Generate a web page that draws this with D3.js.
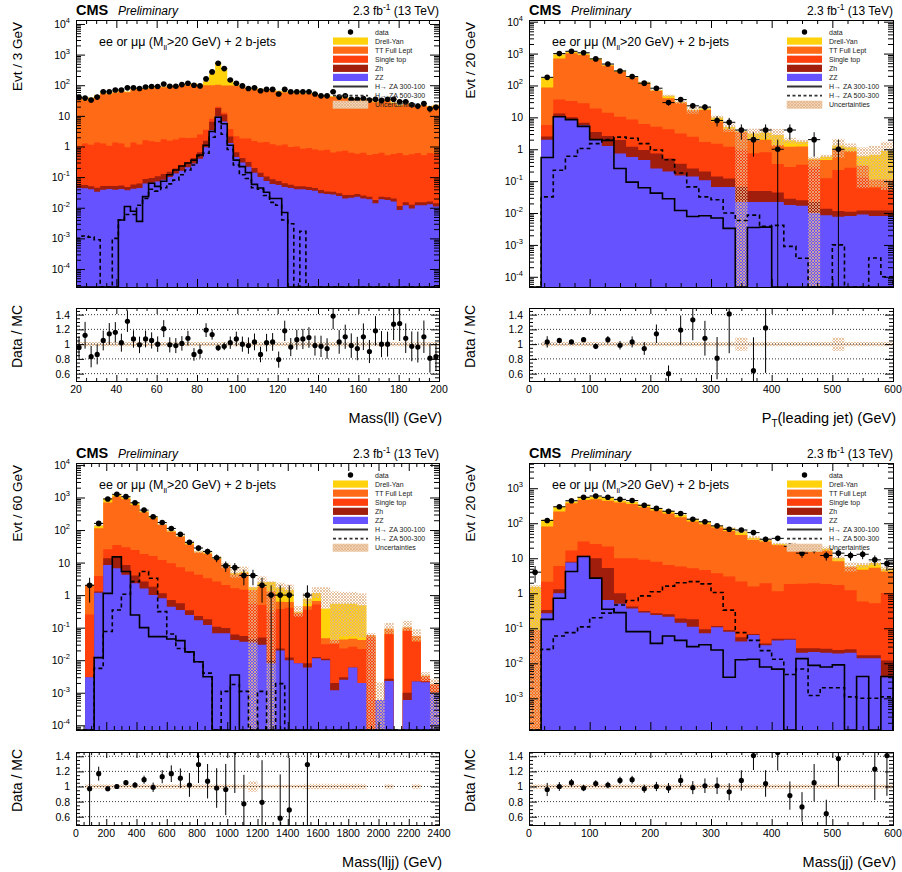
<!DOCTYPE html>
<html>
<head>
<meta charset="utf-8">
<script src="https://cdn.jsdelivr.net/npm/d3@7/dist/d3.min.js"></script>
<style>
  html, body { margin: 0; padding: 0; background: #fff; }
  svg { display: block; }
</style>
</head>
<body>
<svg id="chart" width="902" height="872"></svg>
<script>
// ---------------- Mass(ll): 3 GeV bins, 20-200 GeV ----------------
const mllBinLow = 20, mllBinWidth = 3;
const mllData = [40,38,33,41,61,61,70,70,82,82, 78,88,91,91,110,93,93,105,116,100, 95,161,272,521,349,149,116,95,78,82,
  66,73,73,52,73,61,61,61,61,52, 45,45,61,41,45,35,35,37,33,35, 32,35,35,29,29,23,21,25,17,19];
const mllRatio = [0.955,1.12,0.83,0.86,1.05,1.14,1.16,1.02,1.31,1.07, 0.99,1.07,1.05,1.0,1.21,0.99,0.98,1.01,1.08,0.86,
  0.9,1.19,1.13,0.95,0.97,1.02,1.07,1.0,0.98,1.03, 0.86,1.02,1.03,0.79,1.18,0.96,1.06,1.07,1.09,0.98,
  0.97,0.94,1.38,1.03,1.1,0.98,0.94,1.1,0.9,1.18, 1.0,1.0,1.27,1.28,1.08,0.97,0.96,1.1,0.81,0.83];
const mllDY = [2.5,2.0,2.4,2.9,3.5,3.2,3.6,4.1,3.8,4.6, 4.7,5.0,5.2,5.5,5.5,5.6,6.0,7.0,8.0,10, 12,35,140,445,262,48,12,7.0,5.5,5.0,
  4.6,4.3,4.3,3.9,3.7,3.8,3.5,3.4,3.4,3.2, 2.8,2.9,2.7,2.4,2.5,2.1,2.2,2.0,2.2,1.8, 1.9,2.1,1.7,1.4,1.6,1.4,1.3,1.4,1.3,1.4];
const mllTT = [38.4,30.8,36.5,43.8,53.3,49.3,55.1,63.3,57.9,70.7, 73.0,75.7,80.1,84.2,83.7,86.8,87.3,95.2,97.7,104.4,
  91.1,96.7,92.6,83.1,85.4,94.3,94.2,86.2,72.3,73.1, 70.8,65.9,65.4,60.8,57.0,58.7,53.0,52.7,51.7,49.0,
  42.9,44.2,40.9,36.7,37.7,33.0,34.4,31.0,34.0,27.3, 29.5,32.4,25.3,20.7,24.8,21.7,20.0,20.8,19.1,20.9];
const mllST = [1.0,1.2,1.1,1.3,1.2,1.0,1.3,1.2,0.9,1.3, 1.1,1.5,1.4,1.3,1.6,1.4,1.5,1.7,1.6,1.5, 1.8,2.0,1.7,1.9,1.6,1.6,1.5,1.4,1.5,1.3,
  1.2,1.3,1.1,1.0,1.1,0.9,0.95,0.8,0.85,0.75, 0.7,0.75,0.6,0.65,0.7,0.6,0.55,0.6,0.5,0.55, 0.6,0.5,0.55,0.6,0.5,0.55,0.6,0.5,0.6,0.55];
const mllZh = [0.012,0.012,0.010,0.012,0.012,0.010,0.012,0.012,0.011,0.015, 0.018,0.025,0.028,0.035,0.045,0.05,0.06,0.08,0.10,0.14,
  0.25,0.6,3.0,8.5,4.5,0.8,0.2,0.12,0.09,0.06, 0.04,0.03,0.025,0.02,0.015,0.012,0.01,0.01,0.01,0.008,
  0.008,0.006,0.006,0.006,0.006,0.005,0.005,0.005,0.004,0.004, 0.004,0.004,0.004,0.003,0.003,0.003,0.003,0.003,0.003,0.003];
const mllZZ = [0.044,0.043,0.040,0.033,0.039,0.041,0.039,0.041,0.037,0.042, 0.044,0.062,0.066,0.072,0.082,0.10,0.13,0.16,0.21,0.28,
  0.40,0.95,3.4,9.5,6.5,1.3,0.45,0.30,0.22,0.14, 0.10,0.075,0.060,0.055,0.048,0.044,0.040,0.040,0.038,0.036,
  0.030,0.028,0.027,0.024,0.020,0.021,0.023,0.020,0.019,0.014, 0.019,0.018,0.016,0.0085,0.012,0.0095,0.012,0.012,0.013,0.011];
const mllSig300 = [0,0,0,0,0,0,0,0.004,0.011,0.0077, 0.0036,0.023,0.063,0.05,0.073,0.12,0.17,0.23,0.29,0.36,
  0.53,1.1,3.1,9.0,5.5,1.1,0.36,0.22,0.14,0.058, 0.044,0.032,0.02,0.02,0.007,0,0,0,0,0,
  0,0,0,0,0,0,0,0,0,0, 0,0,0,0,0,0,0,0,0,0];
const mllSig500 = [0.001,0.0012,0.0011,0.0009,0,0,0.001,0.004,0.006,0.006, 0.012,0.02,0.04,0.035,0.045,0.06,0.08,0.12,0.17,0.25,
  0.5,0.6,2.0,6.5,2.5,0.8,0.25,0.12,0.09,0.045, 0.04,0.025,0.015,0.012,0.004,0.003,0,0.0017,0,0,
  0,0,0,0,0,0,0,0,0,0, 0,0,0,0,0,0,0,0,0,0];
const mllUnc = 0.03;        // relative MC uncertainty, all bins
const mllRatioBand = 0.03;

// ---------------- PT(leading jet): 20 GeV bins, 0-600 GeV ----------------
const ptjBinLow = 0, ptjBinWidth = 20;
const ptjData = [0,180,1000,1180,1060,680,470,285,190,118, 82,29,36,23,21,8,7,4,2,4, 1,4,0,2,0,1,0,0,0,0];
const ptjRatio = [null,1.03,1.05,1.03,1.06,0.97,1.06,0.985,1.03,0.94, 1.14,0.6,1.19,1.33,1.08,0.81,1.41,null,0.64,1.22,
  null,null,null,null,null,null,null,null,null,null];
const ptjDY = [0,89,256,130,100,70,25,19,6.5,11.3, 4,8,1.2,0.45,2.5,2.5,0.8,0.2,1.1,1.3, 1.45,0.7,0.5,0.03,0.12,0.3,0.3,0.3,0.56,0.77];
const ptjTT = [0,80,660,983,872,612,404,260,169,108, 63,35.8,26,14.4,15.2,5.9,3.0,2.5,1.25,1.2, 1.0,0.92,0.9,0.2,0.34,0.8,0.6,0.17,0.05,0.05];
const ptjST = [0,3.3,23,22.5,20.7,15.5,11.4,8.5,7.4,5.3, 4.3,3.7,2.75,2.2,1.5,1.36,1.08,0.9,0.7,0.75, 0.3,0.25,0.3,0.25,0.11,0.21,0.25,0.12,0.05,0.05];
const ptjZh = [0,0.5,2.7,1.8,1.1,1.45,1.34,1.2,0.63,0.48, 0.49,0.31,0.2,0.11,0.093,0.074,0.054,0.045,0.027,0.027,
  0.022,0.01,0.008,0.012,0.005,0.004,0.003,0.003,0.004,0.004];
const ptjZZ = [0,2.0,10.5,8.2,5.7,2.05,1.26,0.74,0.57,0.46, 0.25,0.2,0.15,0.14,0.107,0.066,0.066,0.022,0.022,0.022,
  0.022,0.018,0.017,0.01,0.0085,0.0076,0.008,0.009,0.008,0.008];
const ptjSig300 = [0,0.55,10.5,8.5,5.2,2.0,1.9,0.25,0.093,0.062, 0.042,0.028,0.012,0.0078,0.0082,0.007,0.0033,0,0.0035,0.0036,
  0,0,0,0,0,0,0,0,0,0];
const ptjSig500 = [0,0.032,0.22,0.6,1.05,1.5,2.0,2.4,2.2,1.5, 0.95,0.47,0.18,0.066,0.032,0.026,0.01,0.0058,0.0086,0.0038,
  0.0041,0.0009,0.00038,0,0,0.001,0,0,0.00039,0.0001];
const ptjUncUp = [0,0.04,0.04,0.04,0.04,0.04,0.04,0.05,0.05,0.06, 0.07,0.08,0.12,0.25,0.12,0.15,0.3,0.1,0.42,0.35,
  0.55,0.2,0.15,0.15,0.15,0.6,0.3,0.9,0.9,0.94];
const ptjUncDn = [0,0.04,0.04,0.04,0.04,0.04,0.04,0.05,0.05,0.06, 0.07,0.08,0.12,0.25,0.12,0.15,0.3,1,0.42,0.35,
  0.55,0.2,0.15,1,0.15,0.6,0.3,0.9,0.9,0.94];
const ptjRatioBand = [0,0.03,0.03,0.03,0.03,0.03,0.03,0.03,0.03,0.03, 0.03,0.03,0.03,0.03,0.03,0.03,0.03,0.09,0.03,0.03,
  0.03,0.03,0.03,0.03,0.03,0.09,0.03,0.03,0.03,0.03];

// ---------------- Mass(lljj): 60 GeV bins, 0-2400 GeV ----------------
const mlljjBinLow = 0, mlljjBinWidth = 60;
const mlljjData = [0,2,160,900,1250,1060,690,410,255,170, 112,74,42,28,22,14,8,7,4,4, 2,1,1,1,0,1,0,0,0,0, 0,0,0,0,0,0,0,0,0,0];
const mlljjRatio = [null,0.97,1.17,0.97,1.0,1.05,1.02,1.09,0.99,1.13, 1.17,1.11,1.02,1.29,1.07,0.98,0.96,1.47,0.77,null,
  0.79,null,0.58,0.69,null,1.29,null,null,null,null, null,null,null,null,null,null,null,null,null,null];
const mlljjDY = [0,0.16,24,230,185,108,87,25,28,7, 6.7,3,5,1.0,2.0,1.5,0.55,0.45,0.45,0.3, 0.7,1.2,1.1,0.84,0.02,0.32,0.5,0.34,0.5,0.5,
  0.5,0.45,0,0,0,0,0,0,0,0];
const mlljjTT = [0,1.65,109,672,1030,872.5,565,332.6,214,131, 79.5,56.5,30.9,16.5,15.3,10.2,5.7,2.7,3.3,0.9,
  1.3,1.0,0.25,0.2,0.03,0.1,0.15,0.016,0.01,0.02, 0.02,0.02,0.01,0,0.03,0,0.02,0.018,0.0003,0];
const mlljjST = [0,0.25,2.6,12,19.6,21.1,20.4,15.8,14.2,10.9, 8.8,6.6,5.0,4.0,3.1,2.5,1.95,1.55,1.4,0.5,
  0.45,0.3,0.35,0.4,0.25,0.35,0.5,0.02,0.03,0.02, 0.02,0.02,0.05,0,0.06,0,0.08,0.035,0.0008,0.0008];
const mlljjZh = [0,0,0.1,5.1,8.4,4.2,1.7,1.0,0.8,0.34, 0.27,0.21,0.1,0.06,0.06,0.04,0.03,0.02,0.018,0.01,
  0.02,0.002,0.003,0.002,0,0.002,0.001,0.001,0.0008,0.0005, 0,0,0,0,0.0004,0,0.0004,0,0.0001,0];
const mlljjZZ = [0,0.003,1.19,8.4,6.7,4.2,2.3,1.6,1.0,0.8, 0.44,0.35,0.245,0.17,0.12,0.067,0.067,0.042,0.037,0.035,
  0.03,0.008,0.02,0.01,0.008,0.006,0.0115,0.01,0.0012,0.0025, 0.006,0.002,0,0.0006,0.0023,0,0.0006,0.0022,0.0021,0.001];
const mlljjSig300 = [0,0,0.012,1.13,15,5.3,0.245,0.1,0.053,0.053, 0.045,0.04,0.018,0.009,0.0031,0,0,0.0035,0,0,
  0,0,0,0,0,0,0,0,0,0, 0,0,0,0,0,0,0,0,0,0];
const mlljjSig500 = [0,0,0.0056,0.076,0.35,1.06,2.6,5.3,3.3,0.31, 0.064,0.023,0.018,0.009,0.004,0,0.0011,0.0018,0.0011,0,
  0.0011,0,0.0019,0,0,0,0,0,0,0, 0,0,0,0,0,0,0,0,0,0];
const mlljjUncUp = [0,0.05,0.04,0.04,0.04,0.04,0.04,0.04,0.04,0.05, 0.05,0.06,0.08,0.1,0.1,0.12,0.2,0.5,0.44,0.05,
  0.5,0.05,0.4,0.45,0.5,0.5,0.5,3.5,1.4,1.3, 1.3,1.3,0.13,2.5,0.5,0,0.6,0.6,0.3,0.5];
const mlljjUncDn = [0,0.05,0.04,0.04,0.04,0.04,0.04,0.04,0.04,0.05, 0.05,0.06,0.08,0.1,0.1,0.12,0.2,0.3,0.3,1,
  0.3,1,0.3,0.3,0.3,0.3,0.3,0,0.94,0.9, 0.9,0.9,1,1,0.3,0,0.2,0.3,0.3,1];
const mlljjRatioBand = [0,0.03,0.03,0.03,0.03,0.03,0.03,0.03,0.03,0.03, 0.03,0.03,0.03,0.03,0.03,0.03,0.03,0.03,0.03,0.07,
  0.025,0.025,0.025,0.025,0.025,0.035,0.035,0.035,0.035,0.035, 0.035,0.035,0,0,0.03,0,0,0.03,0,0];

// ---------------- Mass(jj): 20 GeV bins, 0-600 GeV ----------------
const mjjBinLow = 0, mjjBinWidth = 20;
const mjjData = [4,120,295,440,550,600,550,480,445,325, 265,220,190,130,110,84,67,64,54,35, 37,22,14,18,12,14,12,13,9,7];
const mjjRatio = [null,0.96,1.0,1.05,0.98,1.04,1.02,1.08,1.09,0.97, 1.0,0.98,1.08,0.985,1.01,1.01,0.93,1.08,1.41,1.04,
  1.45,0.88,0.73,1.05,0.64,1.37,2.07,2.03,1.23,1.41];
const mjjDY = [1.45,45,80,46,97,92,100,55,52,49, 35,34,28,20,15,8,12,12.5,5,3.7, 1.5,2.15,2,2,2,2,0.1,1.7,2.0,0.8];
const mjjTT = [0.09,78,209,356,434,459,418,379,346,277, 222,184,142,107,89.4,71.3,57,44.3,31.7,28,
  22.85,21,15.3,13.2,14.9,6.5,4.5,4.1,4.8,3.2];
const mjjST = [0,1.8,4.7,8.6,18.3,15.7,16.3,9,9.6,8.7, 7.7,6.2,5.6,5.0,4.5,3.6,2.9,2.1,1.5,1.9, 1.1,1.8,1.85,1.9,1.8,1.7,1.2,0.56,0.5,1.0];
const mjjZh = [0,0.06,0.3,0.5,0.5,7.3,4.6,0.5,0.05,0.03, 0.03,0.035,0.045,0.07,0.022,0.01,0.01,0.013,0.005,0.004,
  0.005,0.003,0.007,0.006,0.006,0.005,0.005,0.003,0.003,0.008];
const mjjZZ = [0,0.27,1.0,7.5,11.2,2.7,0.64,0.5,0.37,0.28, 0.24,0.215,0.145,0.11,0.072,0.107,0.08,0.042,0.064,0.033,
  0.045,0.047,0.02,0.021,0.02,0.019,0.02,0.014,0.014,0.004];
const mjjSig300 = [0,0.18,0.72,4.2,11.2,2.7,0.35,0.28,0.08,0.08, 0.037,0.06,0.045,0.03,0.034,0.024,0.004,0.0126,0.013,0.0078,
  0.0068,0,0.0136,0.0087,0.0078,0.009,0,0.0042,0,0.0042];
const mjjSig500 = [0,0.025,0.06,0.075,0.11,0.2,0.27,0.46,0.62,0.84, 1.1,1.6,2.0,2.15,1.85,1.05,0.33,0.075,0.045,0.023,
  0.013,0.0048,0.0069,0.0012,0.002,0.002,0.0011,0.001,0.001,0.0011];
const mjjUncUp = [0.1,0.04,0.03,0.03,0.03,0.03,0.03,0.03,0.03,0.03, 0.03,0.03,0.04,0.04,0.05,0.05,0.06,0.12,0.12,0.1,
  0.08,0.1,0.1,0.1,0.15,0.15,0.3,0.15,0.12,0.15];
const mjjUncDn = [1,0.04,0.03,0.03,0.03,0.03,0.03,0.03,0.03,0.03, 0.03,0.03,0.04,0.04,0.05,0.05,0.06,0.12,0.12,0.1,
  0.08,0.1,0.1,0.1,0.15,0.15,0.3,0.15,0.12,0.15];
const mjjRatioBand = 0.03;

// ---------------- shared labels ----------------
const legendLabels = ["data", "Drell-Yan", "TT Full Lept", "Single top", "Zh", "ZZ",
  "H\u2192 ZA 300-100", "H\u2192 ZA 500-300", "Uncertainties"];
const ratioTicks = [0.6, 0.8, 1, 1.2, 1.4];
const ratioTickLabels = ["0.6", "0.8", "1", "1.2", "1.4"];

const FONT = '"Liberation Sans", Arial, Helvetica, sans-serif';
const procColor = { zz: "#6652FF", zh: "#A11D0C", st: "#FF3F0C", tt: "#FF6A16", dy: "#FFD20B" };
const hatchColor = "#E2B48A";

const panels = [
  { binLow: mllBinLow, binWidth: mllBinWidth, data: mllData, ratio: mllRatio,
    stack: { dy: mllDY, tt: mllTT, st: mllST, zh: mllZh, zz: mllZZ },
    sig300: mllSig300, sig500: mllSig500, uncUp: mllUnc, uncDn: mllUnc, ratioBand: mllRatioBand,
    xDomain: [20, 200], xMajor: 20, xMinor: 5,
    yTitle: "Evt / 3 GeV", xTitle: [["Mass(ll) (GeV)", ""]],
    x0: 76, x1: 439, y0: 20, y1: 287, ry0: 308, ry1: 381, logLo: -4.588, logHi: 4.13, ratioDomain: [0.5, 1.49] },
  { binLow: ptjBinLow, binWidth: ptjBinWidth, data: ptjData, ratio: ptjRatio,
    stack: { dy: ptjDY, tt: ptjTT, st: ptjST, zh: ptjZh, zz: ptjZZ },
    sig300: ptjSig300, sig500: ptjSig500, uncUp: ptjUncUp, uncDn: ptjUncDn, ratioBand: ptjRatioBand,
    xDomain: [0, 600], xMajor: 100, xMinor: 25,
    yTitle: "Evt / 20 GeV", xTitle: [["P", ""], ["T", "sub"], ["(leading jet) (GeV)", ""]],
    x0: 529, x1: 893, y0: 20, y1: 287, ry0: 308, ry1: 381, logLo: -4.32, logHi: 4.053, ratioDomain: [0.5, 1.49] },
  { binLow: mlljjBinLow, binWidth: mlljjBinWidth, data: mlljjData, ratio: mlljjRatio,
    stack: { dy: mlljjDY, tt: mlljjTT, st: mlljjST, zh: mlljjZh, zz: mlljjZZ },
    sig300: mlljjSig300, sig500: mlljjSig500, uncUp: mlljjUncUp, uncDn: mlljjUncDn, ratioBand: mlljjRatioBand,
    xDomain: [0, 2400], xMajor: 200, xMinor: 50,
    yTitle: "Evt / 60 GeV", xTitle: [["Mass(lljj) (GeV)", ""]],
    x0: 76, x1: 439, y0: 463, y1: 730, ry0: 752, ry1: 825, logLo: -4.145, logHi: 4.06, ratioDomain: [0.49, 1.457] },
  { binLow: mjjBinLow, binWidth: mjjBinWidth, data: mjjData, ratio: mjjRatio,
    stack: { dy: mjjDY, tt: mjjTT, st: mjjST, zh: mjjZh, zz: mjjZZ },
    sig300: mjjSig300, sig500: mjjSig500, uncUp: mjjUncUp, uncDn: mjjUncDn, ratioBand: mjjRatioBand,
    xDomain: [0, 600], xMajor: 100, xMinor: 25,
    yTitle: "Evt / 20 GeV", xTitle: [["Mass(jj) (GeV)", ""]],
    x0: 529, x1: 893, y0: 463, y1: 730, ry0: 752, ry1: 825, logLo: -3.905, logHi: 3.72, ratioDomain: [0.49, 1.457] }
];

const svg = d3.select("#chart").style("font-family", FONT);
const defs = svg.append("defs");

// fine cross-hatch used for the MC uncertainty bands
const pat = defs.append("pattern").attr("id", "hatch").attr("patternUnits", "userSpaceOnUse")
  .attr("width", 3).attr("height", 3);
pat.append("path").attr("d", "M-1,1 L1,-1 M0,3 L3,0 M2,4 L4,2")
  .attr("stroke", hatchColor).attr("stroke-width", 0.8);
pat.append("path").attr("d", "M-1,2 L1,4 M0,0 L3,3 M2,-1 L4,1")
  .attr("stroke", hatchColor).attr("stroke-width", 0.8);

function tickVals(lo, hi, step) {
  const out = [];
  for (let k = Math.ceil(lo / step - 1e-9); k * step <= hi + 1e-9; k++) out.push(+(k * step).toFixed(6));
  return out;
}

function ticks(g, axis, scale, values, len, tx, ty) {
  g.append("g").attr("transform", `translate(${tx},${ty})`)
    .call(axis(scale).tickValues(values).tickSizeInner(-len).tickSizeOuter(0).tickFormat(""))
    .call(s => s.select(".domain").remove());
}

function drawPanel(p, idx) {
  const g = svg.append("g");
  const xs = d3.scaleLinear().domain(p.xDomain).range([p.x0, p.x1]);
  const ys = d3.scaleLog().domain([Math.pow(10, p.logLo), Math.pow(10, p.logHi)]).range([p.y1, p.y0]).clamp(true);
  const rs = d3.scaleLinear().domain(p.ratioDomain).range([p.ry1, p.ry0]);
  const n = p.data.length;
  const edge = i => p.binLow + i * p.binWidth;
  const center = i => p.binLow + (i + 0.5) * p.binWidth;
  const Y = v => (v > 0 ? ys(v) : p.y1);
  const at = (a, i) => (Array.isArray(a) ? a[i] : a);
  const line = d3.line();

  const mainClip = "mainClip" + idx, ratioClip = "ratioClip" + idx;
  defs.append("clipPath").attr("id", mainClip).append("rect")
    .attr("x", p.x0).attr("y", p.y0).attr("width", p.x1 - p.x0).attr("height", p.y1 - p.y0);
  defs.append("clipPath").attr("id", ratioClip).append("rect")
    .attr("x", p.x0).attr("y", p.ry0).attr("width", p.x1 - p.x0).attr("height", p.ry1 - p.ry0);

  // ---- stacked backgrounds (cumulative, drawn from the top layer down) ----
  const main = g.append("g").attr("clip-path", `url(#${mainClip})`);
  const order = ["zz", "zh", "st", "tt", "dy"];
  const cum = {};
  let run = d3.range(n).map(() => 0);
  order.forEach(k => { run = run.map((c, i) => c + (p.stack[k][i] || 0)); cum[k] = run; });
  const total = cum.dy;

  const steps = vals => {
    const pts = [[xs(edge(0)), p.y1]];
    vals.forEach((v, i) => pts.push([xs(edge(i)), Y(v)], [xs(edge(i + 1)), Y(v)]));
    pts.push([xs(edge(n)), p.y1]);
    return pts;
  };
  order.slice().reverse().forEach(k => {
    main.append("path").attr("d", line(steps(cum[k])) + "Z").attr("fill", procColor[k]);
  });

  // ---- MC uncertainty band ----
  total.forEach((T, i) => {
    const u = at(p.uncUp, i), d = at(p.uncDn, i);
    if (!(T > 0) || !(u > 0 || d > 0)) return;
    const top = Y(T * (1 + u)), bot = d >= 1 ? p.y1 : Y(T * (1 - d));
    main.append("rect").attr("x", xs(edge(i))).attr("width", xs(edge(i + 1)) - xs(edge(i)))
      .attr("y", top).attr("height", Math.max(0, bot - top)).attr("fill", "url(#hatch)");
  });

  // ---- signal hypotheses ----
  main.append("path").attr("d", line(steps(p.sig300))).attr("fill", "none")
    .attr("stroke", "#000").attr("stroke-width", 1.6);
  main.append("path").attr("d", line(steps(p.sig500))).attr("fill", "none")
    .attr("stroke", "#000").attr("stroke-width", 1.6).attr("stroke-dasharray", "4,3");

  // ---- data ----
  p.data.forEach((N, i) => {
    if (!(N > 0)) return;
    const cx = xs(center(i)), cy = Y(N), e = Math.sqrt(N);
    main.append("line").attr("x1", cx).attr("x2", cx).attr("y1", Y(N + e))
      .attr("y2", N - e > 0 ? Y(N - e) : p.y1).attr("stroke", "#000").attr("stroke-width", 1);
    main.append("line").attr("x1", xs(edge(i))).attr("x2", xs(edge(i + 1))).attr("y1", cy).attr("y2", cy)
      .attr("stroke", "#000").attr("stroke-width", 1);
    main.append("circle").attr("cx", cx).attr("cy", cy).attr("r", 2.8).attr("fill", "#000");
  });

  // ---- main frame and ticks ----
  const ax = g.append("g");
  const xMaj = tickVals(p.xDomain[0], p.xDomain[1], p.xMajor);
  const xMin = tickVals(p.xDomain[0], p.xDomain[1], p.xMinor).filter(v => !xMaj.includes(v));
  const decades = d3.range(Math.ceil(p.logLo), Math.floor(p.logHi) + 1);
  const logMaj = decades.map(e => Math.pow(10, e));
  const logMin = [];
  d3.range(Math.floor(p.logLo), Math.ceil(p.logHi) + 1).forEach(e => {
    for (let k = 2; k <= 9; k++) {
      const v = k * Math.pow(10, e), l = Math.log10(v);
      if (l > p.logLo && l < p.logHi) logMin.push(v);
    }
  });
  ticks(ax, d3.axisBottom, xs, xMaj, 8, 0, p.y1);
  ticks(ax, d3.axisBottom, xs, xMin, 4, 0, p.y1);
  ticks(ax, d3.axisTop, xs, xMaj, 8, 0, p.y0);
  ticks(ax, d3.axisTop, xs, xMin, 4, 0, p.y0);
  ticks(ax, d3.axisLeft, ys, logMaj, 9, p.x0, 0);
  ticks(ax, d3.axisLeft, ys, logMin, 5, p.x0, 0);
  ticks(ax, d3.axisRight, ys, logMaj, 9, p.x1, 0);
  ticks(ax, d3.axisRight, ys, logMin, 5, p.x1, 0);
  ax.append("rect").attr("x", p.x0).attr("y", p.y0).attr("width", p.x1 - p.x0).attr("height", p.y1 - p.y0)
    .attr("fill", "none").attr("stroke", "#000").attr("stroke-width", 1).attr("shape-rendering", "crispEdges");

  decades.forEach(e => {
    const t = g.append("text").attr("x", p.x0 - 6).attr("y", ys(Math.pow(10, e)) + 4)
      .attr("text-anchor", "end").attr("font-size", 10.5);
    if (e === 0) t.text("1");
    else if (e === 1) t.text("10");
    else {
      t.append("tspan").text("10");
      t.append("tspan").attr("dy", -5).attr("font-size", 7.5).text(String(e));
    }
  });

  // ---- ratio pad ----
  const rat = g.append("g").attr("clip-path", `url(#${ratioClip})`);
  d3.range(n).forEach(i => {
    const b = at(p.ratioBand, i);
    if (!(b > 0)) return;
    rat.append("rect").attr("x", xs(edge(i))).attr("width", xs(edge(i + 1)) - xs(edge(i)))
      .attr("y", rs(1 + b)).attr("height", rs(1 - b) - rs(1 + b)).attr("fill", "url(#hatch)");
  });
  ratioTicks.forEach(v => {
    rat.append("line").attr("x1", p.x0).attr("x2", p.x1).attr("y1", rs(v)).attr("y2", rs(v))
      .attr("stroke", "#000").attr("stroke-width", 0.8).attr("stroke-dasharray", "1,2");
  });
  p.ratio.forEach((r, i) => {
    if (r == null || !(p.data[i] > 0)) return;
    const cx = xs(center(i)), e = r / Math.sqrt(p.data[i]);
    rat.append("line").attr("x1", cx).attr("x2", cx).attr("y1", rs(r + e)).attr("y2", rs(Math.max(r - e, p.ratioDomain[0] - 1)))
      .attr("stroke", "#000").attr("stroke-width", 1);
    rat.append("circle").attr("cx", cx).attr("cy", rs(r)).attr("r", 2.6).attr("fill", "#000");
  });

  const rax = g.append("g");
  const rMin = tickVals(p.ratioDomain[0], p.ratioDomain[1], 0.05).filter(v => !ratioTicks.some(t => Math.abs(t - v) < 1e-6));
  ticks(rax, d3.axisBottom, xs, xMaj, 6, 0, p.ry1);
  ticks(rax, d3.axisBottom, xs, xMin, 3, 0, p.ry1);
  ticks(rax, d3.axisTop, xs, xMaj, 6, 0, p.ry0);
  ticks(rax, d3.axisTop, xs, xMin, 3, 0, p.ry0);
  ticks(rax, d3.axisLeft, rs, ratioTicks, 8, p.x0, 0);
  ticks(rax, d3.axisLeft, rs, rMin, 4, p.x0, 0);
  ticks(rax, d3.axisRight, rs, ratioTicks, 8, p.x1, 0);
  ticks(rax, d3.axisRight, rs, rMin, 4, p.x1, 0);
  rax.append("rect").attr("x", p.x0).attr("y", p.ry0).attr("width", p.x1 - p.x0).attr("height", p.ry1 - p.ry0)
    .attr("fill", "none").attr("stroke", "#000").attr("stroke-width", 1).attr("shape-rendering", "crispEdges");

  ratioTicks.forEach((v, k) => {
    g.append("text").attr("x", p.x0 - 6).attr("y", rs(v) + 4).attr("text-anchor", "end")
      .attr("font-size", 10.5).text(ratioTickLabels[k]);
  });
  xMaj.forEach(v => {
    g.append("text").attr("x", xs(v)).attr("y", p.ry1 + 12).attr("text-anchor", "middle")
      .attr("font-size", 10.5).text(String(v));
  });

  // ---- titles ----
  g.append("text").attr("transform", `translate(${p.x0 - 54},${p.y0 + 2}) rotate(-90)`)
    .attr("text-anchor", "end").attr("font-size", 13.5).text(p.yTitle);
  g.append("text").attr("transform", `translate(${p.x0 - 54},${p.ry0 - 3}) rotate(-90)`)
    .attr("text-anchor", "end").attr("font-size", 14).text("Data / MC");
  const xt = g.append("text").attr("x", p.x1 + 3).attr("y", p.ry1 + 42).attr("text-anchor", "end").attr("font-size", 14.5);
  let shift = 0;
  p.xTitle.forEach(([s, kind]) => {
    const ts = xt.append("tspan").text(s);
    if (kind === "sub") ts.attr("font-size", 10).attr("dy", 4);
    else if (shift) ts.attr("dy", -shift);
    shift = kind === "sub" ? 4 : 0;
  });

  g.append("text").attr("x", p.x0).attr("y", p.y0 - 5).attr("font-size", 14.5).attr("font-weight", "bold").text("CMS");
  g.append("text").attr("x", p.x0 + 42).attr("y", p.y0 - 5).attr("font-size", 12).attr("font-style", "italic").text("Preliminary");
  const lumi = g.append("text").attr("x", p.x1).attr("y", p.y0 - 5).attr("text-anchor", "end").attr("font-size", 12);
  lumi.append("tspan").text("2.3 fb");
  lumi.append("tspan").attr("dy", -5).attr("font-size", 8.5).text("-1");
  lumi.append("tspan").attr("dy", 5).text(" (13 TeV)");

  const sel = g.append("text").attr("x", p.x0 + 23).attr("y", p.y0 + 26).attr("font-size", 12.5);
  sel.append("tspan").text("ee or \u03bc\u03bc (M");
  sel.append("tspan").attr("dy", 3.5).attr("font-size", 8).text("ll");
  sel.append("tspan").attr("dy", -3.5).text(">20 GeV) + 2 b-jets");

  // ---- legend ----
  const lg = g.append("g");
  const bx0 = p.x1 - 106, bx1 = p.x1 - 71, tx = p.x1 - 64;
  const rowY = k => p.y0 + 12 + 9.08 * k;
  const boxes = ["dy", "tt", "st", "zh", "zz"];
  legendLabels.forEach((label, k) => {
    const y = rowY(k);
    if (k === 0) {
      lg.append("circle").attr("cx", (bx0 + bx1) / 2).attr("cy", y).attr("r", 2.7).attr("fill", "#000");
    } else if (k <= 5) {
      lg.append("rect").attr("x", bx0).attr("y", y - 3.6).attr("width", bx1 - bx0).attr("height", 7.2)
        .attr("fill", procColor[boxes[k - 1]]);
    } else if (k === 6 || k === 7) {
      const l = lg.append("line").attr("x1", bx0).attr("x2", bx1).attr("y1", y).attr("y2", y)
        .attr("stroke", "#333").attr("stroke-width", 1.8);
      if (k === 7) l.attr("stroke-dasharray", "3,2.5");
    } else {
      lg.append("rect").attr("x", bx0).attr("y", y - 3.6).attr("width", bx1 - bx0).attr("height", 7.2)
        .attr("fill", "#F2D2B4");
      lg.append("rect").attr("x", bx0).attr("y", y - 3.6).attr("width", bx1 - bx0).attr("height", 7.2)
        .attr("fill", "url(#hatch)").attr("stroke", "#E8C29C").attr("stroke-width", 0.6);
    }
    lg.append("text").attr("x", tx).attr("y", y + 2.5).attr("font-size", 7).attr("fill", "#222").text(label);
  });
}

panels.forEach(drawPanel);
</script>
</body>
</html>
